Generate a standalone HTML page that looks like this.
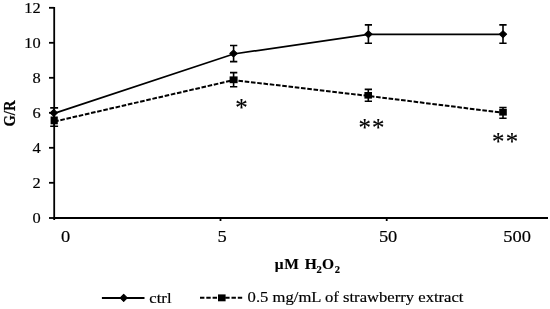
<!DOCTYPE html>
<html><head><meta charset="utf-8">
<style>
html,body{margin:0;padding:0;background:#fff;width:550px;height:309px;overflow:hidden}
svg{display:block;will-change:transform}
text{font-family:"Liberation Serif",serif;fill:#000;stroke:#000;stroke-width:0.18px}
</style></head>
<body>
<svg width="550" height="309" viewBox="0 0 550 309">
<!-- axes -->
<g stroke="#000" stroke-width="1.8" fill="none">
<line x1="54.2" y1="7" x2="54.2" y2="220"/>
<line x1="53.2" y1="218" x2="548" y2="218"/>
<!-- y ticks -->
<line x1="49" y1="7.8" x2="54.2" y2="7.8"/>
<line x1="49" y1="42.8" x2="54.2" y2="42.8"/>
<line x1="49" y1="77.8" x2="54.2" y2="77.8"/>
<line x1="49" y1="112.8" x2="54.2" y2="112.8"/>
<line x1="49" y1="147.8" x2="54.2" y2="147.8"/>
<line x1="49" y1="182.8" x2="54.2" y2="182.8"/>
<line x1="49" y1="218" x2="54.2" y2="218"/>
<!-- x ticks -->
<line x1="220.5" y1="218" x2="220.5" y2="221"/>
<line x1="386.7" y1="218" x2="386.7" y2="221"/>
</g>
<!-- y labels -->
<g font-size="15.2" text-anchor="end" transform="translate(40.7,0) scale(1.08,1)">
<text x="0" y="12.8">12</text>
<text x="0" y="47.9">10</text>
<text x="0" y="83">8</text>
<text x="0" y="118">6</text>
<text x="0" y="153">4</text>
<text x="0" y="188">2</text>
<text x="0" y="222.8">0</text>
</g>
<!-- x labels -->
<g font-size="17.6" text-anchor="middle">
<text transform="translate(65.5,241.8) scale(1.048,1)">0</text>
<text transform="translate(222.2,241.8) scale(1.048,1)">5</text>
<text transform="translate(388.1,241.8) scale(1.048,1)">50</text>
<text transform="translate(517.2,241.8) scale(1.048,1)">500</text>
</g>
<!-- axis titles -->
<text font-size="14.6" font-weight="bold" transform="translate(15.24,126.5) scale(1.09,1) rotate(-90)">G/R</text>
<g font-weight="bold" font-size="15.5" style="stroke-width:0.1px">
<text x="274.8" y="269.2">μ</text>
<text x="284.35" y="269.2">M</text>
<text x="304.7" y="269.2">H</text>
<text x="316.4" y="272.8" font-size="10.5">2</text>
<text x="322.0" y="269.2">O</text>
<text x="334.8" y="272.8" font-size="10.5">2</text>
</g>
<!-- ctrl series -->
<g stroke="#000" stroke-width="1.7" fill="none">
<polyline points="54.2,113.4 233.6,54.0 368.4,34.3 503,34.3"/>
<polyline stroke-width="2" stroke-dasharray="4.6,1.7" points="54.2,121.6 233.6,80.1 368.3,95.9 503,112.8"/>
</g><g stroke="#000" stroke-width="1.6" fill="none">
<!-- error bars ctrl -->
<path d="M54.2,107.9V117 M50.2,107.9H58.1"/>
<path d="M233.6,45.5V61.6 M230,45.5H237.3 M230,61.6H237.3"/>
<path d="M368.4,24.9V43.3 M364.8,24.9H372 M364.8,43.3H372"/>
<path d="M503,24.9V43.3 M499.3,24.9H506.6 M499.3,43.3H506.6"/>
<!-- error bars square -->
<path d="M54.2,120V126.2 M50.2,126.2H58.1"/>
<path d="M233.6,72.6V86.8 M230,72.6H237.3 M230,86.8H237.3"/>
<path d="M368.3,89.4V101.2 M364.7,89.4H372 M364.7,101.2H372"/>
<path d="M503,107.5V118.2 M499.3,107.5H506.6 M499.3,118.2H506.6"/>
</g>
<!-- markers -->
<g fill="#000" stroke="#000" stroke-width="1.1" stroke-linejoin="round">
<path d="M53.8,109.50 L57.40,112.9 L53.8,116.30 L50.20,112.9Z"/>
<path d="M233.5,50.10 L237.10,53.5 L233.5,56.90 L229.90,53.5Z"/>
<path d="M368.4,30.80 L372.00,34.2 L368.4,37.60 L364.80,34.2Z"/>
<path d="M503,30.80 L506.60,34.2 L503,37.60 L499.40,34.2Z"/>
</g><g fill="#000">
<rect x="50.6" y="116.5" width="7.2" height="7.8"/>
<rect x="229.6" y="76.4" width="8" height="6.8"/>
<rect x="364.4" y="92" width="7.6" height="6.6"/>
<rect x="499.2" y="108.8" width="7.6" height="6.8"/>
</g>
<!-- asterisks -->
<g font-size="24.8" style="stroke-width:0.35px">
<text x="235.3" y="116.0">*</text>
<text x="358.5" y="135.6" letter-spacing="1.2">**</text>
<text x="492.1" y="149.5" letter-spacing="1.2">**</text>
</g>
<!-- legend -->
<g stroke="#000" stroke-width="2" fill="none">
<line x1="101.9" y1="298" x2="144.5" y2="298"/>
<line x1="200" y1="297.8" x2="243.5" y2="297.8" stroke-dasharray="4.4,1.9"/>
</g>
<path d="M123.7,294.45 L127.20,297.95 L123.7,301.45 L120.20,297.95Z" fill="#000" stroke="#000" stroke-width="1.1" stroke-linejoin="round"/>
<rect x="218" y="294.4" width="7.6" height="6.9" fill="#000"/>
<g font-size="15.2">
<text transform="translate(149.37,302.6) scale(1.095,1)">ctrl</text>
<text transform="translate(247.57,302.4) scale(1.095,1)">0.5 mg/mL of strawberry extract</text>
</g>
</svg>
</body></html>
